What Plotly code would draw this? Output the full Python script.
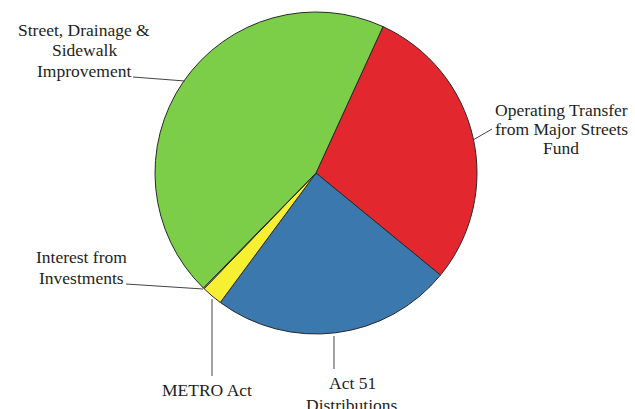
import plotly.graph_objects as go

W, H = 635, 409

# Revenue sources (share of total, %)
sources = [
    "Operating Transfer from Major Streets Fund",
    "Act 51 Distributions",
    "METRO Act",
    "Interest from Investments",
    "Street, Drainage & Sidewalk Improvement",
]
shares = [29.1, 24.2, 2.1, 0.1, 44.5]
colors = ["#e2272f", "#3a78ad", "#f7f032", "#f7f032", "#7ccd48"]

# Callout lines: text lines, centre x and the y of each line (pixels)
callouts = [
    (["Operating Transfer", "from Major Streets", "Fund"], 561, [110, 129, 148]),
    (["Act 51", "Distributions"], 352, [383, 405]),
    (["METRO Act"], 207, [390]),
    (["Interest from", "Investments"], 81, [257, 278]),
    (["Street, Drainage &", "Sidewalk", "Improvement"], 84, [30, 50, 71]),
]
leaders = [
    [(473, 140), (492, 129)],
    [(334, 336), (334, 369)],
    [(212, 299), (212, 376)],
    [(126, 284), (203, 289)],
    [(133, 77), (185, 81)],
]


def px(x):
    return x / W


def py(y):
    return 1 - y / H


cx, cy, r = 316, 173, 161

fig = go.Figure(
    go.Pie(
        labels=sources,
        values=shares,
        sort=False,
        direction="clockwise",
        rotation=24.6,
        marker=dict(colors=colors, line=dict(color="#2a2a2a", width=1)),
        textinfo="none",
        hoverinfo="label+percent",
        showlegend=False,
        domain=dict(x=[px(cx - r), px(cx + r)], y=[py(cy + r), py(cy - r)]),
    )
)

for lines, x, ys in callouts:
    for t, y in zip(lines, ys):
        fig.add_annotation(
            x=px(x), y=py(y), xref="paper", yref="paper",
            text=t, showarrow=False, align="center",
            xanchor="center", yanchor="middle",
            font=dict(family="Liberation Serif", size=17.5, color="#1e1e1e"),
        )

for (x0, y0), (x1, y1) in leaders:
    fig.add_shape(
        type="line", xref="paper", yref="paper",
        x0=px(x0), y0=py(y0), x1=px(x1), y1=py(y1),
        line=dict(color="#444444", width=1),
    )

fig.update_layout(
    width=W, height=H,
    margin=dict(l=0, r=0, t=0, b=0),
    paper_bgcolor="white",
    plot_bgcolor="white",
)

fig.write_html("out.html")
